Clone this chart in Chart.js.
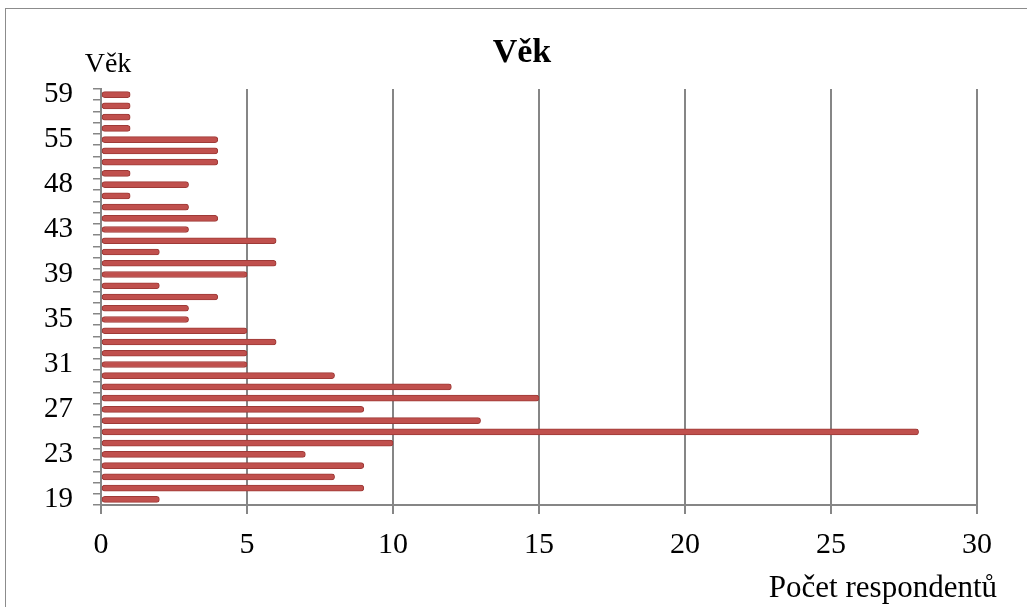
<!DOCTYPE html>
<html>
<head>
<meta charset="utf-8">
<script src="https://cdn.jsdelivr.net/npm/chart.js@4/dist/chart.umd.min.js"></script>
<style>
  html, body { margin: 0; padding: 0; background: #fff; overflow: hidden; }
  #frame {
    position: absolute; left: 5px; top: 8px; width: 1100px; height: 700px;
    border-left: 1px solid #8c8c8c; border-top: 1px solid #8c8c8c;
  }
  #wrap { position: absolute; left: 0; top: 0; width: 1027px; height: 607px; }
</style>
</head>
<body>
<div id="frame"></div>
<div id="wrap"><canvas id="chart" width="1027" height="607"></canvas></div>
<script>
// věk respondentů (osa y) a jejich počet (osa x)
const ages = [19, 20, 21, 22, 23, 24, 25, 26, 27, 28, 29, 30, 31, 32, 33, 34, 35, 36, 37, 38,
  39, 40, 41, 42, 43, 44, 45, 47, 48, 50, 53, 54, 55, 56, 57, 58, 59];
const counts = [2, 9, 8, 9, 7, 10, 28, 13, 9, 15, 12, 8, 5, 5, 6, 5, 3, 3, 4, 2,
  5, 6, 2, 6, 3, 4, 3, 1, 3, 1, 4, 4, 4, 1, 1, 1, 1];
const xTicks = [0, 5, 10, 15, 20, 25, 30];

const serif = "'Liberation Serif', 'DejaVu Serif', serif";
const gridGray = "#868686";
const barRed = "#c0504d";

const textPlugin = {
  id: "texts",
  afterDraw(chart) {
    const ctx = chart.ctx;
    ctx.save();
    ctx.fillStyle = "#000";
    ctx.textBaseline = "alphabetic";
    ctx.textAlign = "center";
    ctx.font = `bold 34px ${serif}`;
    ctx.fillText("Věk", 522, 62);
    ctx.font = `28px ${serif}`;
    ctx.fillText("Věk", 108, 72);
    ctx.textAlign = "right";
    ctx.font = `31px ${serif}`;
    ctx.fillText("Počet respondentů", 997, 597);
    ctx.restore();
  },
};

new Chart(document.getElementById("chart"), {
  type: "bar",
  data: {
    labels: ages.map(String),
    datasets: [{
      label: "Věk",
      data: counts,
      backgroundColor: barRed,
      borderColor: "#9e3a37",
      borderWidth: 1,
      borderSkipped: false,
      borderRadius: 3,
      barThickness: 6,
    }],
  },
  options: {
    indexAxis: "y",
    responsive: false,
    animation: false,
    layout: { padding: { top: 89, right: 50, left: 0, bottom: 0 } },
    plugins: {
      legend: { display: false },
      title: { display: false },
      tooltip: { enabled: false },
    },
    scales: {
      x: {
        min: 0,
        max: 30,
        afterFit: (s) => { s.height = 102; },
        afterBuildTicks: (s) => { s.ticks = xTicks.map((v) => ({ value: v })); },
        grid: { color: gridGray, lineWidth: 2, tickLength: 9, tickColor: gridGray },
        border: { display: true, color: gridGray, width: 2 },
        ticks: { color: "#000", font: { family: serif, size: 30 }, padding: 13, maxRotation: 0 },
      },
      y: {
        reverse: true,
        afterFit: (s) => { s.width = 101; },
        grid: { offset: true, drawOnChartArea: false, tickLength: 8, color: gridGray, lineWidth: 1.5 },
        border: { display: true, color: gridGray, width: 2 },
        ticks: {
          autoSkip: false,
          color: "#000",
          font: { family: serif, size: 29 },
          padding: 20,
          callback: (v, i) => (i % 4 === 0 ? ages[i] : ""),
        },
      },
    },
  },
  plugins: [textPlugin],
});
</script>
</body>
</html>
